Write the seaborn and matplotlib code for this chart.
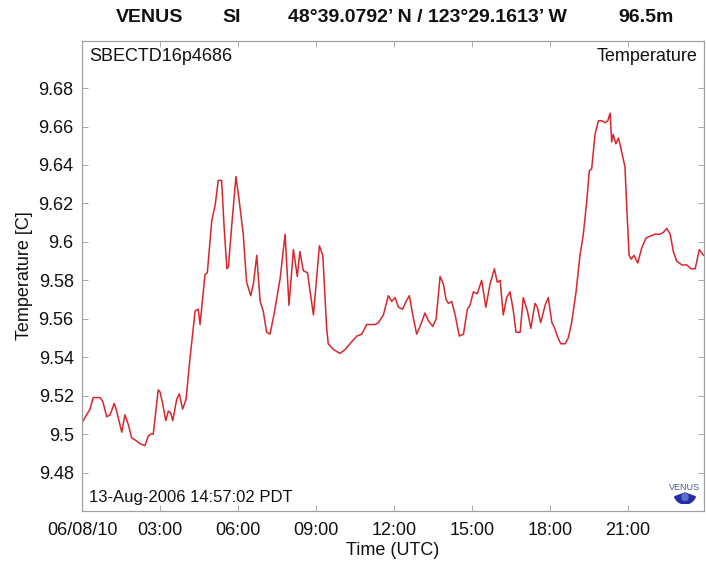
import matplotlib
matplotlib.use("Agg")
import matplotlib.pyplot as plt
import seaborn as sns
import pandas as pd
from matplotlib.patches import Wedge, Ellipse

# ---------------- data (hours since 2006-08-10 00:00 UTC, temperature in C) -------------
hours = [0.00, 0.18, 0.31, 0.43, 0.69, 0.80, 0.95, 1.08, 1.24, 1.33, 1.53, 1.65, 1.78, 1.91,
         2.04, 2.23, 2.42, 2.55, 2.64, 2.74, 2.93, 3.00, 3.10, 3.22, 3.32, 3.41, 3.49, 3.64,
         3.74, 3.87, 4.00, 4.15, 4.35, 4.47, 4.54, 4.64, 4.73, 4.82, 4.99, 5.12, 5.24, 5.37,
         5.46, 5.57, 5.63, 5.78, 5.92, 6.05, 6.20, 6.33, 6.49, 6.59, 6.72, 6.85, 6.97, 7.10,
         7.23, 7.38, 7.62, 7.81, 7.96, 8.13, 8.28, 8.38, 8.51, 8.67, 8.90, 9.13, 9.26, 9.41,
         9.47, 9.67, 9.92, 10.12, 10.37, 10.57, 10.76, 10.95, 11.14, 11.27, 11.40, 11.59,
         11.78, 11.91, 12.04, 12.17, 12.33, 12.46, 12.59, 12.72, 12.87, 13.03, 13.19, 13.32,
         13.49, 13.62, 13.77, 13.90, 14.00, 14.09, 14.22, 14.35, 14.51, 14.67, 14.82, 14.92,
         15.05, 15.20, 15.37, 15.53, 15.69, 15.86, 15.97, 16.08, 16.20, 16.33, 16.46, 16.59,
         16.69, 16.85, 16.97, 17.13, 17.26, 17.42, 17.51, 17.64, 17.81, 17.93, 18.07, 18.15,
         18.28, 18.41, 18.58, 18.70, 18.83, 19.00, 19.15, 19.28, 19.41, 19.51, 19.60, 19.73,
         19.86, 19.99, 20.12, 20.22, 20.31, 20.37, 20.43, 20.53, 20.63, 20.72, 20.88, 20.95,
         21.04, 21.12, 21.23, 21.37, 21.53, 21.69, 21.85, 22.04, 22.23, 22.36, 22.49, 22.62,
         22.74, 22.87, 23.07, 23.26, 23.42, 23.58, 23.74, 23.90]
temps = [9.506, 9.510, 9.513, 9.519, 9.519, 9.517, 9.509, 9.510, 9.516, 9.512, 9.501, 9.510,
         9.505, 9.498, 9.497, 9.495, 9.494, 9.499, 9.500, 9.500, 9.523, 9.522, 9.516, 9.507,
         9.512, 9.511, 9.507, 9.518, 9.521, 9.513, 9.518, 9.539, 9.564, 9.565, 9.557, 9.571,
         9.583, 9.584, 9.611, 9.619, 9.632, 9.632, 9.609, 9.586, 9.587, 9.612, 9.634, 9.621,
         9.604, 9.579, 9.572, 9.578, 9.593, 9.569, 9.564, 9.553, 9.552, 9.562, 9.581, 9.604,
         9.567, 9.596, 9.582, 9.595, 9.585, 9.584, 9.562, 9.598, 9.593, 9.555, 9.547, 9.544,
         9.542, 9.544, 9.548, 9.551, 9.552, 9.557, 9.557, 9.557, 9.558, 9.562, 9.572, 9.569,
         9.571, 9.566, 9.565, 9.569, 9.572, 9.562, 9.552, 9.557, 9.563, 9.559, 9.556, 9.560,
         9.582, 9.578, 9.570, 9.568, 9.569, 9.562, 9.551, 9.552, 9.565, 9.567, 9.574, 9.573,
         9.580, 9.566, 9.578, 9.586, 9.579, 9.580, 9.562, 9.571, 9.574, 9.564, 9.553, 9.553,
         9.571, 9.564, 9.555, 9.568, 9.566, 9.558, 9.567, 9.571, 9.558, 9.556, 9.551, 9.547,
         9.547, 9.550, 9.558, 9.574, 9.593, 9.604, 9.621, 9.637, 9.638, 9.656, 9.663, 9.663,
         9.662, 9.663, 9.667, 9.652, 9.656, 9.651, 9.654, 9.649, 9.639, 9.618, 9.593, 9.591,
         9.593, 9.589, 9.597, 9.602, 9.603, 9.604, 9.604, 9.605, 9.607, 9.604, 9.595, 9.590,
         9.588, 9.588, 9.586, 9.586, 9.596, 9.593]

x_tick_hours = [0, 3, 6, 9, 12, 15, 18, 21]
x_tick_labels = ["06/08/10", "03:00", "06:00", "09:00", "12:00", "15:00", "18:00", "21:00"]
y_ticks = [9.48, 9.50, 9.52, 9.54, 9.56, 9.58, 9.60, 9.62, 9.64, 9.66, 9.68]
y_tick_labels = ["9.48", "9.5", "9.52", "9.54", "9.56", "9.58", "9.6", "9.62", "9.64", "9.66", "9.68"]

title_parts = ["VENUS", "SI", "48\u00b039.0792\u2019 N / 123\u00b029.1613\u2019 W", "96.5m"]
instrument = "SBECTD16p4686"
variable = "Temperature"
stamp = "13-Aug-2006 14:57:02 PDT"

# ---------------- style ----------------
sns.set_style("ticks")
plt.rcParams["font.family"] = ["Liberation Sans", "DejaVu Sans"]

df = pd.DataFrame({"hours": hours, "temp": temps})

fig = plt.figure(figsize=(7.06, 5.64), dpi=100)
ax = fig.add_axes([82 / 706, 1 - 511 / 564, (704 - 82) / 706, (511 - 41) / 564])

sns.lineplot(data=df, x="hours", y="temp", ax=ax, color="#d8262d", linewidth=1.1)

ax.set_xlim(0, 23.92)
ax.set_ylim(9.46, 9.7045)
ax.set_xticks(x_tick_hours)
ax.set_xticklabels(x_tick_labels)
ax.set_yticks(y_ticks)
ax.set_yticklabels(y_tick_labels)
ax.tick_params(direction="in", length=4, width=0.6, color="#9a9a9a",
               top=True, right=True, labelsize=13, labelcolor="#111111")
ax.tick_params(axis="x", pad=8)
ax.tick_params(axis="y", pad=6)
for s in ax.spines.values():
    s.set_color("#a0a0a0")
    s.set_linewidth(0.9)

ax.set_xlabel("Time (UTC)", fontsize=13, labelpad=2, color="#111111")
ax.set_ylabel("Temperature [C]", fontsize=13, labelpad=4, color="#111111")

ax.text(0.012, 0.985, instrument, transform=ax.transAxes, ha="left", va="top",
        fontsize=13, color="#111111")
ax.text(0.99, 0.985, variable, transform=ax.transAxes, ha="right", va="top",
        fontsize=13, color="#111111")
ax.text(0.012, 0.012, stamp, transform=ax.transAxes, ha="left", va="bottom",
        fontsize=12, color="#111111")

# title pieces
ty = 1 - 17.5 / 564
for txt, xc in zip(title_parts, [150, 232, 427, 646]):
    fig.text(xc / 706, ty, txt, ha="center", va="center", fontsize=14,
             fontweight="bold", color="#111111")

# small VENUS logo (bottom right)
fig.text(685 / 706, 1 - 487 / 564, "VENUS", ha="center", va="center", fontsize=6.5,
         color="#4a5a8a")
lax = fig.add_axes([668 / 706, 1 - 504 / 564, 34 / 706, 12 / 564])
lax.set_xlim(0, 34)
lax.set_ylim(0, 12)
lax.axis("off")
lax.add_patch(Wedge((17, 11), 11, 200, 340, color="#2030a0"))
lax.add_patch(Ellipse((17, 7), 6, 7, color="#5a70d0"))

fig.savefig("out.png", dpi=100)
